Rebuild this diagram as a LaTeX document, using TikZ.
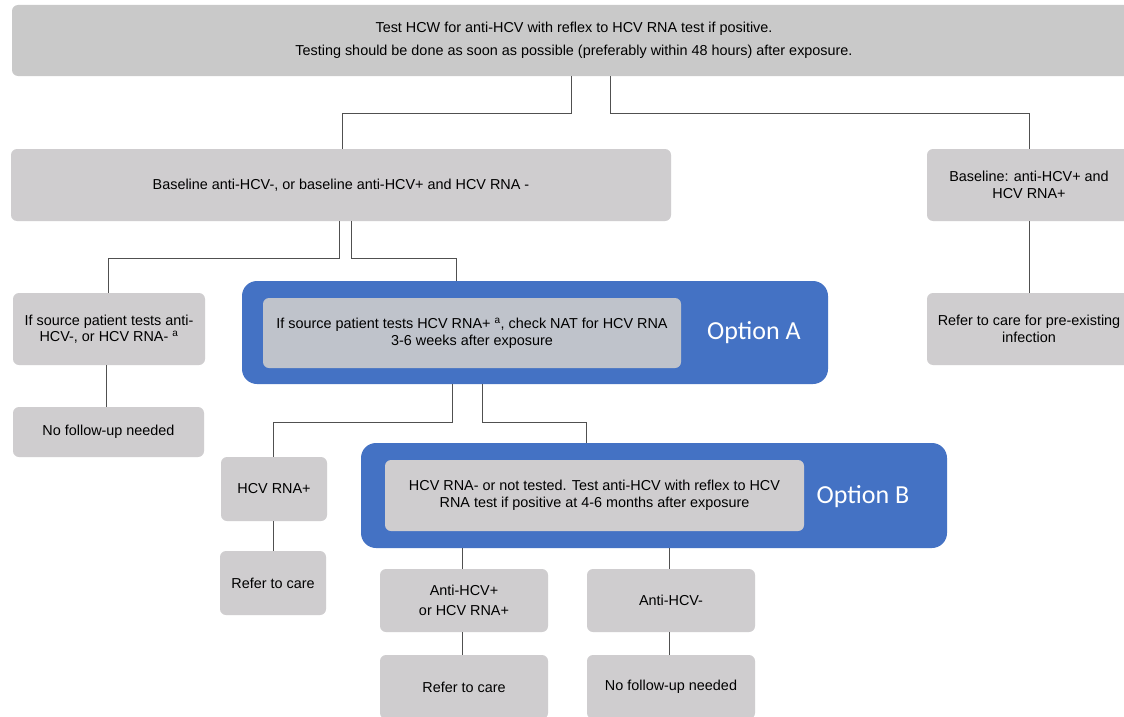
\documentclass[tikz,border=0pt]{standalone}
\usepackage{fontspec}
\setmainfont{Liberation Sans}
\newfontfamily\optfont{Carlito}
\usetikzlibrary{positioning}
\definecolor{boxgray}{HTML}{CFCDCF}
\definecolor{topgray}{HTML}{C9C9C9}
\definecolor{innerA}{HTML}{BFC3CB}
\definecolor{optblue}{HTML}{4472C4}
\definecolor{linegray}{HTML}{505050}
\tikzset{
  box/.style={fill=boxgray, rounded corners=6pt, inner sep=0pt, align=center, font=\fontsize{14.4}{16.5}\selectfont},
  outerbox/.style={fill=optblue, rounded corners=15pt, inner sep=0pt},
  optlabel/.style={text=white, font=\optfont\fontsize{26}{30}\selectfont},
  conn/.style={draw=linegray, line width=1pt}
}
\newcommand{\bx}[7]{% name, x1, y1, x2, y2, style, text
  \node[box, #6, minimum width={#4-#2}, minimum height={#5-#3}] (#1) at ({(#2+#4)/2},{(#3+#5)/2}) {#7};}
\begin{document}
\begin{tikzpicture}[x=1pt,y=-1pt]
\useasboundingbox (0,0) rectangle (1124,717);
\fill[white] (0,0) rectangle (1124,717);
% top
\bx{top}{12}{5}{1136}{76}{fill=topgray}{Test HCW for anti-HCV with reflex to HCV RNA test if positive.\\[6pt]Testing should be done as soon as possible (preferably within 48 hours) after exposure.}
\bx{base}{11}{149}{671}{221}{}{Baseline anti-HCV-, or baseline anti-HCV+ and HCV RNA -}
\bx{basep}{927}{149}{1131}{221}{}{Baseline: anti-HCV+ and\\HCV RNA+}
\bx{srcneg}{13}{293}{205}{365}{}{If source patient tests anti-\\HCV-, or HCV RNA- \textsuperscript{a}}
\bx{nofua}{13}{407}{204}{457}{}{No follow-up needed}
\bx{preex}{927}{293}{1131}{365}{}{Refer to care for pre-existing\\infection}
% option A
\node[outerbox, minimum width=586, minimum height=103] (optA) at (535,332.5) {};
\bx{inA}{263}{298}{681}{368}{fill=innerA}{If source patient tests HCV RNA+ \textsuperscript{a}, check NAT for HCV RNA\\3-6 weeks after exposure}
\node[optlabel] (labA) at (754,333) {Option A};
\bx{rnap}{221}{457}{327}{521}{}{HCV RNA+}
\bx{refa}{220}{551}{326}{615}{}{Refer to care}
% option B
\node[outerbox, minimum width=586, minimum height=105] (optB) at (654,495.5) {};
\bx{inB}{385}{460}{804}{531}{}{HCV RNA- or not tested. Test anti-HCV with reflex to HCV\\RNA test if positive at 4-6 months after exposure}
\node[optlabel] (labB) at (863,497) {Option B};
\bx{antip}{380}{569}{548}{632}{}{Anti-HCV+\\[4pt]or HCV RNA+}
\bx{refb}{380}{655}{548}{719}{}{Refer to care}
\bx{antin}{587}{569}{755}{632}{}{Anti-HCV-}
\bx{nofub}{587}{655}{755}{719}{}{No follow-up needed}
% connectors
\draw[conn] (top.south -| 571,0) |- (342,113) -- (base.north -| 342,0);
\draw[conn] (top.south -| 610,0) |- (1029,113) -- (basep.north -| 1029,0);
\draw[conn] (base.south -| 339,0) |- (108,258) -- (srcneg.north -| 108,0);
\draw[conn] (base.south -| 351,0) |- (456,258) -- (optA.north -| 456,0);
\draw[conn] (srcneg.south -| 106,0) -- (nofua.north -| 106,0);
\draw[conn] (basep.south -| 1029,0) -- (preex.north -| 1029,0);
\draw[conn] (optA.south -| 452,0) |- (273,422) -- (rnap.north -| 273,0);
\draw[conn] (optA.south -| 482,0) |- (586,422) -- (optB.north -| 586,0);
\draw[conn] (rnap.south -| 273,0) -- (refa.north -| 273,0);
\draw[conn] (optB.south -| 462,0) -- (antip.north -| 462,0);
\draw[conn] (optB.south -| 669,0) -- (antin.north -| 669,0);
\draw[conn] (antip.south -| 462,0) -- (refb.north -| 462,0);
\draw[conn] (antin.south -| 669,0) -- (nofub.north -| 669,0);
\end{tikzpicture}
\end{document}
